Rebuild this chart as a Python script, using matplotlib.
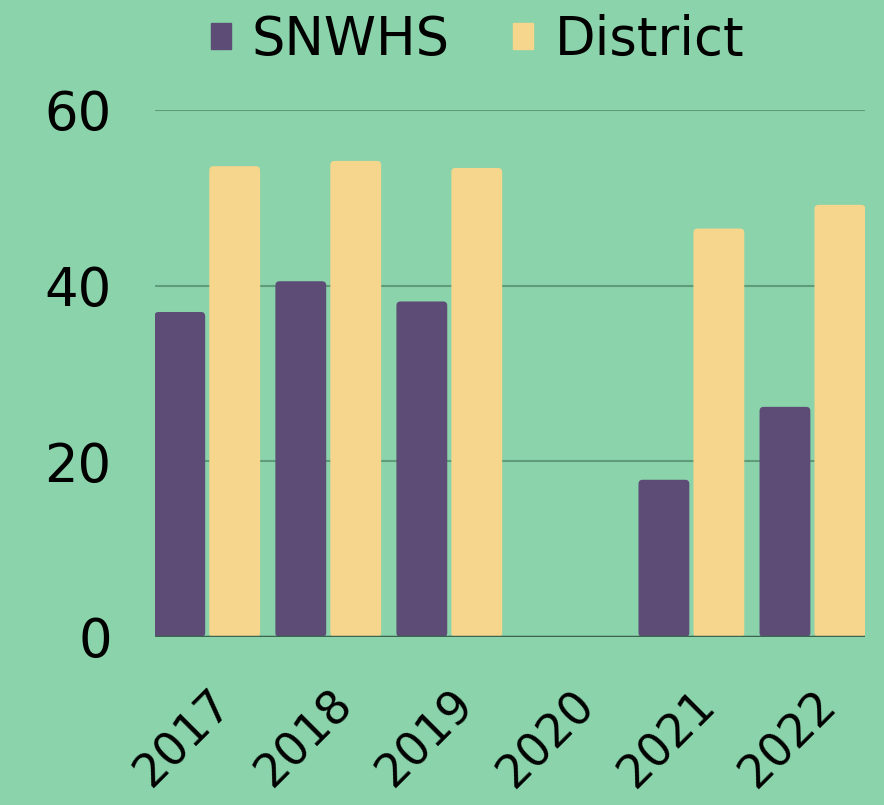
import numpy as np
import matplotlib
matplotlib.use("Agg")
import matplotlib.pyplot as plt
from matplotlib.patches import FancyBboxPatch, Patch
from matplotlib.transforms import ScaledTranslation

years = ["2017", "2018", "2019", "2020", "2021", "2022"]
snwhs = [37.0, 40.5, 38.2, 0, 17.9, 26.2]
district = [53.6, 54.2, 53.4, 0, 46.5, 49.2]

bg = "#8bd3ab"
purple = "#5c4c76"
yellow = "#f6d68c"

plt.rcParams["font.family"] = ["DejaVu Sans"]

fig = plt.figure(figsize=(8.84, 8.05), dpi=100, facecolor=bg)
ax = fig.add_axes([0.175, 0.2087, 0.804, 0.6547], facecolor=bg)

x = np.arange(len(years))
w = 0.42
off = 0.227
b1 = ax.bar(x - off, snwhs, w, color=purple, zorder=3)
b2 = ax.bar(x + off, district, w, color=yellow, zorder=3)

# slightly rounded corners like the original
for cont in (b1, b2):
    for r in cont:
        r.set_visible(False)
        if r.get_height() <= 0:
            continue
        p = FancyBboxPatch((r.get_x(), r.get_y()), r.get_width(), r.get_height(),
                           boxstyle="round,pad=0,rounding_size=0.035",
                           mutation_aspect=13.5, facecolor=r.get_facecolor(),
                           edgecolor="none", zorder=3)
        ax.add_patch(p)

ax.set_xlim(-0.434, 5.438)
ax.set_ylim(0, 60)
ax.set_yticks([0, 20, 40, 60])
ax.yaxis.grid(True, color="#5f9c7a", linewidth=1.5, zorder=0)
ax.axhline(0, color="#3d6450", linewidth=2.5, zorder=4)
for s in ax.spines.values():
    s.set_visible(False)
ax.tick_params(axis="both", length=0, labelsize=38)
ax.tick_params(axis="y", pad=31)
ax.set_xticks(x)
ax.set_xticklabels(years, rotation=45, ha="right", va="top", rotation_mode="anchor", fontsize=33)
for lab in ax.get_xticklabels():
    lab.set_transform(lab.get_transform() + ScaledTranslation(0.02, -0.4, fig.dpi_scale_trans))

handles = [Patch(color=purple), Patch(color=yellow)]
fig.legend(handles=handles, labels=["SNWHS", "District"], loc="center",
           bbox_to_anchor=(0.54, 0.95), ncol=2, frameon=False,
           fontsize=38, handlelength=0.38, handleheight=0.38, handletextpad=0.4,
           columnspacing=1.2)

fig.savefig("out.png", dpi=100, facecolor=bg)
